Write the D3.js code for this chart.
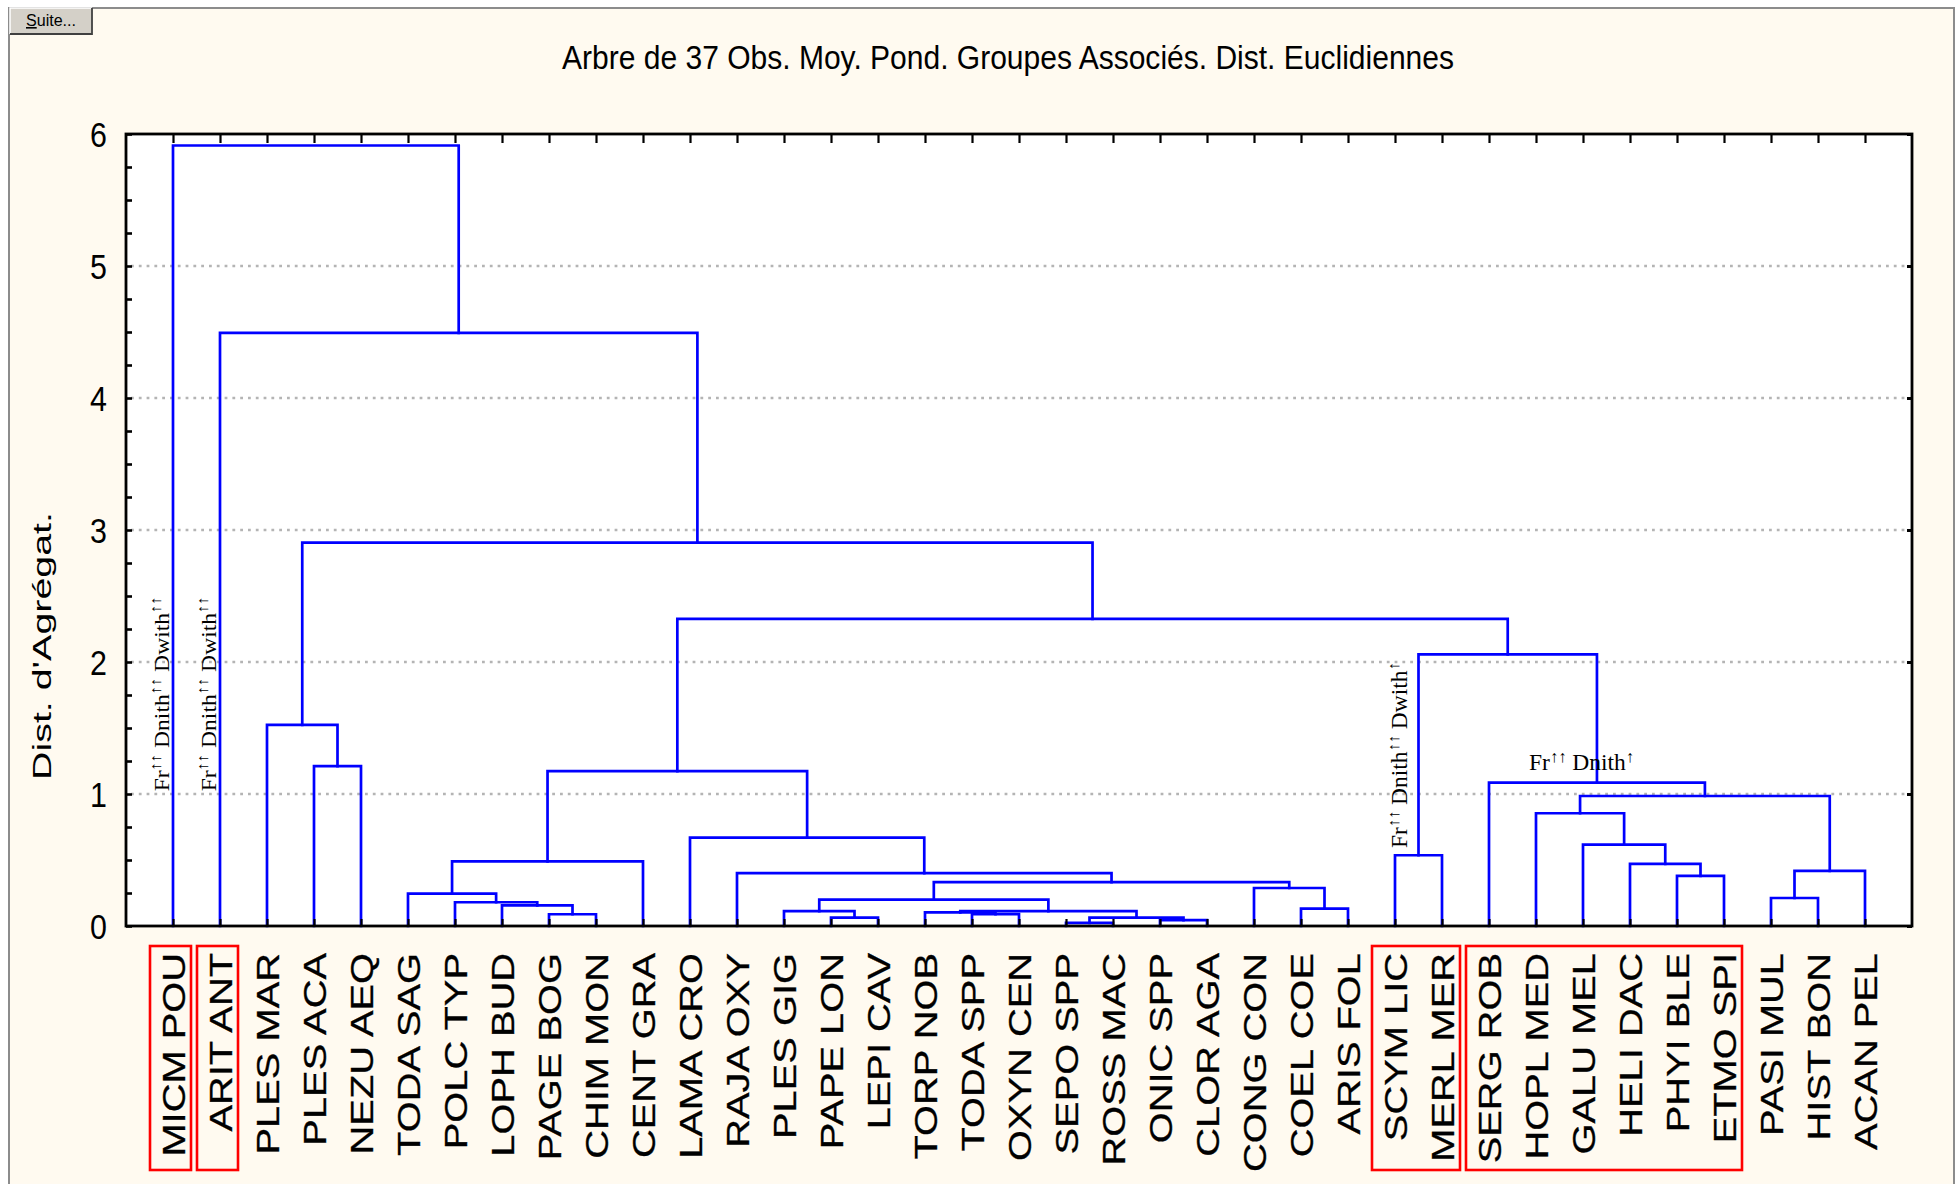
<!DOCTYPE html>
<html>
<head>
<meta charset="utf-8">
<script src="https://cdn.jsdelivr.net/npm/d3@7/dist/d3.min.js"></script>
<style>
  html, body { margin: 0; padding: 0; background: #ffffff; }
  svg { display: block; }
</style>
</head>
<body>
<svg id="chart" width="1959" height="1184"></svg>
<script>
// ---------------- DATA ----------------
const chartTitle = "Arbre de 37 Obs. Moy. Pond. Groupes Associés. Dist. Euclidiennes";
const yAxisTitle = "Dist. d'Agrégat.";
const buttonLabel = "Suite...";

const leaves = [
  "MICM POU","ARIT ANT","PLES MAR","PLES ACA","NEZU AEQ","TODA SAG","POLC TYP",
  "LOPH BUD","PAGE BOG","CHIM MON","CENT GRA","LAMA CRO","RAJA OXY","PLES GIG",
  "PAPE LON","LEPI CAV","TORP NOB","TODA SPP","OXYN CEN","SEPO SPP","ROSS MAC",
  "ONIC SPP","CLOR AGA","CONG CON","COEL COE","ARIS FOL","SCYM LIC","MERL MER",
  "SERG ROB","HOPL MED","GALU MEL","HELI DAC","PHYI BLE","ETMO SPI","PASI MUL",
  "HIST BON","ACAN PEL"
];

// merges: [child A, child B, linkage distance]; "mK" = result of K-th merge
const merges = [
  ["PAGE BOG","CHIM MON",0.089],  // m0
  ["LOPH BUD","m0",0.157],        // m1
  ["POLC TYP","m1",0.180],        // m2
  ["TODA SAG","m2",0.245],        // m3
  ["m3","CENT GRA",0.490],        // m4
  ["PAPE LON","LEPI CAV",0.064],  // m5
  ["PLES GIG","m5",0.112],        // m6
  ["TODA SPP","OXYN CEN",0.090],  // m7
  ["TORP NOB","m7",0.103],        // m8
  ["SEPO SPP","ROSS MAC",0.023],  // m9
  ["ONIC SPP","CLOR AGA",0.045],  // m10
  ["m9","m10",0.063],             // m11
  ["m8","m11",0.112],             // m12
  ["m6","m12",0.200],             // m13
  ["COEL COE","ARIS FOL",0.132],  // m14
  ["CONG CON","m14",0.288],       // m15
  ["m13","m15",0.333],            // m16
  ["RAJA OXY","m16",0.400],       // m17
  ["LAMA CRO","m17",0.670],       // m18
  ["m4","m18",1.173],             // m19
  ["SCYM LIC","MERL MER",0.536],  // m20
  ["PHYI BLE","ETMO SPI",0.379],  // m21
  ["HELI DAC","m21",0.470],       // m22
  ["GALU MEL","m22",0.617],       // m23
  ["HOPL MED","m23",0.854],       // m24
  ["PASI MUL","HIST BON",0.212],  // m25
  ["m25","ACAN PEL",0.417],       // m26
  ["m24","m26",0.985],            // m27
  ["SERG ROB","m27",1.086],       // m28
  ["m20","m28",2.058],            // m29
  ["m19","m29",2.327],            // m30
  ["PLES ACA","NEZU AEQ",1.211],  // m31
  ["PLES MAR","m31",1.523],       // m32
  ["m32","m30",2.904],            // m33
  ["ARIT ANT","m33",4.494],       // m34
  ["MICM POU","m34",5.913]        // m35
];

const yMajorTicks = [0,1,2,3,4,5,6];
const yMinorTicks = d3.range(0, 6.001, 0.25);
const gridValues = [1,2,3,4,5];

const boxedGroups = [
  ["MICM POU"],
  ["ARIT ANT"],
  ["SCYM LIC","MERL MER"],
  ["SERG ROB","HOPL MED","GALU MEL","HELI DAC","PHYI BLE","ETMO SPI"]
];

// annotation texts: segments [text, isSuperscript]
const noteA = [["Fr",0],["↑↑",1],[" Dnith",0],["↑↑",1],[" Dwith",0],["↑↑",1]];
const noteB = [["Fr",0],["↑↑",1],[" Dnith",0],["↑↑",1],[" Dwith",0],["↑",1]];
const noteC = [["Fr",0],["↑↑",1],[" Dnith",0],["↑",1]];

// ---------------- LAYOUT ----------------
const svg = d3.select("#chart");
const plot = {left:126, right:1912, top:134, bottom:926};
const x = d3.scaleLinear().domain([0, leaves.length + 1]).range([plot.left, plot.right]);
const y = d3.scaleLinear().domain([0, 6]).range([plot.bottom, plot.top]);

const sans = "'Liberation Sans', Arial, Helvetica, sans-serif";
const serif = "'Liberation Serif', 'Times New Roman', Times, serif";

// outer panel
svg.append("rect").attr("x",0).attr("y",0).attr("width",1959).attr("height",1184).attr("fill","#ffffff");
svg.append("rect").attr("x",9).attr("y",8).attr("width",1945).attr("height",1190)
  .attr("fill","#fffaf0").attr("stroke","#8c8c8c").attr("stroke-width",2);

// plot background
svg.append("rect").attr("x",plot.left).attr("y",plot.top)
  .attr("width",plot.right-plot.left).attr("height",plot.bottom-plot.top).attr("fill","#ffffff");

// gridlines
svg.append("g").selectAll("line").data(gridValues).join("line")
  .attr("x1",plot.left+5).attr("x2",plot.right-5)
  .attr("y1",d=>y(d)).attr("y2",d=>y(d))
  .attr("stroke","#b4b4b4").attr("stroke-width",2.6)
  .attr("stroke-dasharray","2.8,5");

// dendrogram
const nodes = {};
leaves.forEach((n,i)=>{ nodes[n] = {pos:i+1, h:0}; });
const links = [];
merges.forEach(([a,b,h],k)=>{
  const A = nodes[a], B = nodes[b];
  nodes["m"+k] = {pos:(A.pos+B.pos)/2, h:h};
  links.push({A,B,h});
});
svg.append("g").selectAll("path").data(links).join("path")
  .attr("d", d => `M${x(d.A.pos)},${y(d.A.h)}V${y(d.h)}H${x(d.B.pos)}V${y(d.B.h)}`)
  .attr("fill","none").attr("stroke","#0000ff").attr("stroke-width",2.7)
  .attr("stroke-linejoin","miter").attr("stroke-linecap","square");

// axes (ticks inward)
const leafTicks = d3.range(1, leaves.length+1);
function styleAxis(g){
  g.select(".domain").remove();
  g.selectAll(".tick line").attr("stroke","#000").attr("stroke-width",2.2);
}
svg.append("g").attr("transform",`translate(0,${plot.bottom})`)
  .call(d3.axisBottom(x).tickValues(leafTicks).tickSize(-7).tickFormat("")).call(styleAxis);
svg.append("g").attr("transform",`translate(0,${plot.top})`)
  .call(d3.axisTop(x).tickValues(leafTicks).tickSize(-9).tickFormat("")).call(styleAxis);
svg.append("g").attr("transform",`translate(${plot.left},0)`)
  .call(d3.axisLeft(y).tickValues(yMinorTicks).tickSize(-6).tickFormat("")).call(styleAxis)
  .selectAll(".tick line").attr("stroke-width",2.6);
svg.append("g").attr("transform",`translate(${plot.right},0)`)
  .call(d3.axisRight(y).tickValues(yMajorTicks).tickSize(-5).tickFormat("")).call(styleAxis)
  .selectAll(".tick line").attr("stroke-width",3);

// y tick labels
const yLab = svg.append("g").attr("transform",`translate(${plot.left},0)`)
  .call(d3.axisLeft(y).tickValues(yMajorTicks).tickSize(0).tickPadding(20).tickFormat(d3.format("d")));
yLab.select(".domain").remove();
yLab.selectAll("text").attr("font-family",sans).attr("font-size",32).attr("fill","#000")
  .attr("dy","0.36em").attr("transform","scale(0.95,1.1)");

// plot frame
svg.append("rect").attr("x",plot.left).attr("y",plot.top)
  .attr("width",plot.right-plot.left).attr("height",plot.bottom-plot.top)
  .attr("fill","none").attr("stroke","#000").attr("stroke-width",2.8);

// leaf labels
svg.append("g").selectAll("text").data(leaves).join("text")
  .attr("transform",(d,i)=>`translate(${x(i+1)},953) rotate(-90) scale(1.245,1)`)
  .attr("text-anchor","end").attr("dy","0.36em")
  .attr("font-family",sans).attr("font-size",32).attr("fill","#000")
  .attr("stroke","#000").attr("stroke-width",0.3)
  .text(d=>d);

// red boxes
svg.append("g").selectAll("rect").data(boxedGroups).join("rect")
  .attr("x",g=>x(leaves.indexOf(g[0])+1)-23)
  .attr("width",g=>x(leaves.indexOf(g[g.length-1])+1)-x(leaves.indexOf(g[0])+1)+41)
  .attr("y",946).attr("height",224)
  .attr("fill","none").attr("stroke","#ff0000").attr("stroke-width",2.6);

// title
svg.append("text").attr("x",1008).attr("y",68).attr("text-anchor","middle")
  .attr("transform","translate(0,-6) scale(1,1.1)")
  .attr("font-family",sans).attr("font-size",30).attr("fill","#000")
  .attr("textLength",892).attr("lengthAdjust","spacingAndGlyphs")
  .text(chartTitle);

// y axis title
svg.append("text").attr("transform","translate(51,646) rotate(-90)")
  .attr("text-anchor","middle").attr("font-family",sans).attr("font-size",26).attr("fill","#000")
  .attr("textLength",268).attr("lengthAdjust","spacingAndGlyphs")
  .text(yAxisTitle);

// annotations
function addNote(segs, size){
  const t = svg.append("text").attr("font-family",serif).attr("font-size",size).attr("fill","#000");
  let up = false;
  const sh = Math.round(size*0.36);
  segs.forEach(([s,sup])=>{
    const ts = t.append("tspan").text(s);
    if (sup && !up){ ts.attr("dy",-sh).attr("font-size",size*0.7); up = true; }
    else if (sup){ ts.attr("font-size",size*0.7); }
    else if (!sup && up){ ts.attr("dy",sh); up = false; }
  });
  return t;
}
function placeVertical(t, px, py, target){
  const len = t.node().getComputedTextLength();
  t.attr("transform",`translate(${px},${py}) rotate(-90) scale(${target/len},1)`);
}
placeVertical(addNote(noteA,22), x(nodes["MICM POU"].pos)-4, y(1.02), 195);
placeVertical(addNote(noteA,22), x(nodes["ARIT ANT"].pos)-4, y(1.02), 195);
placeVertical(addNote(noteB,23), x(nodes["m20"].pos)-12, y(0.59), 186);
addNote(noteC,23.5).attr("x", x(nodes["SERG ROB"].pos)+40).attr("y", y(nodes["m28"].h)-13);

// "Suite..." button
const btn = svg.append("g");
btn.append("rect").attr("x",10).attr("y",8).attr("width",82).attr("height",26).attr("fill","#d4d0c8");
btn.append("path").attr("d","M10,34V8H92").attr("fill","none").attr("stroke","#ffffff").attr("stroke-width",1.5);
btn.append("path").attr("d","M10,34H92V8").attr("fill","none").attr("stroke","#404040").attr("stroke-width",1.8);
const bt = btn.append("text").attr("x",51).attr("y",26).attr("text-anchor","middle")
  .attr("font-family",sans).attr("font-size",16).attr("fill","#000")
  .attr("textLength",50).attr("lengthAdjust","spacingAndGlyphs");
bt.append("tspan").attr("text-decoration","underline").text(buttonLabel.slice(0,1));
bt.append("tspan").text(buttonLabel.slice(1));
</script>
</body>
</html>
